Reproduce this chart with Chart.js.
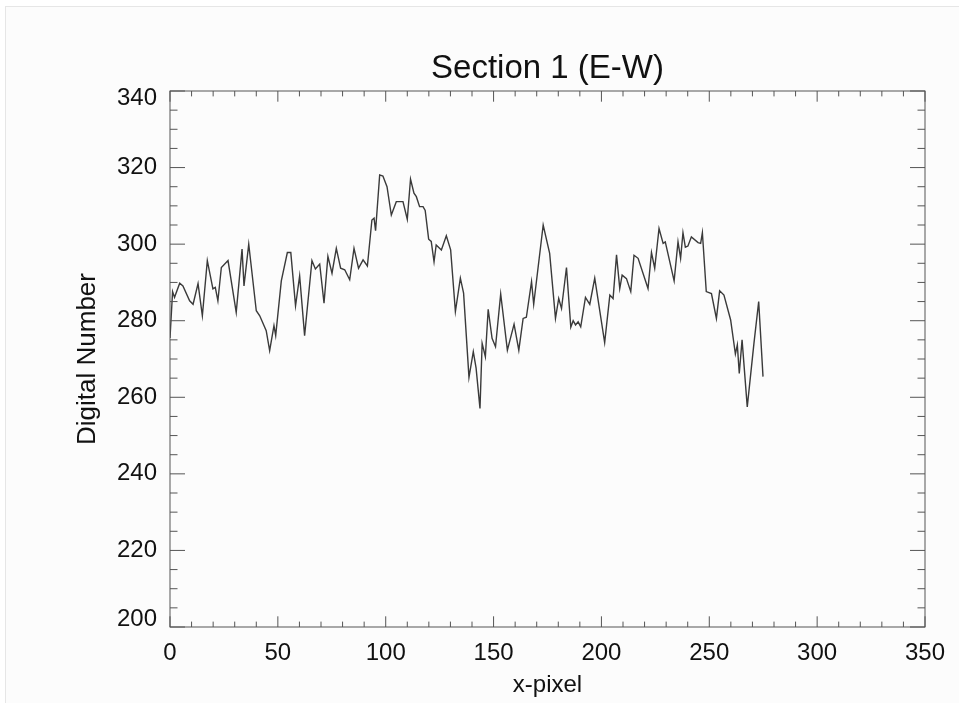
<!DOCTYPE html>
<html>
<head>
<meta charset="utf-8">
<title>Section 1 (E-W)</title>
<script src="https://cdn.jsdelivr.net/npm/chart.js@4.4.1/dist/chart.umd.min.js"></script>
<style>
  html, body { margin: 0; padding: 0; background: #fff; }
  #wrap { position: relative; width: 959px; height: 703px; }
  /* faint frame of the original screenshot */
  #frame { position: absolute; left: 5px; top: 6px; right: 0; bottom: 0;
           border-top: 1px solid #e6e6e6; border-left: 1px solid #e6e6e6; background: #fcfcfc; }
  #grafica { position: absolute; left: 0; top: 0; }
</style>
</head>
<body>
<div id="wrap">
  <div id="frame"></div>
  <canvas id="grafica" width="959" height="703"></canvas>
</div>
<script>
// Perfil de la seccion 1 (x-pixel, Digital Number)
const xPixel = [
  0, 1.2, 2.1, 4.5, 6, 9.1, 10.7, 13, 15, 17.3, 19.9, 21, 22.2, 23.8, 26.9, 30.7, 33.4, 34.3, 36.5, 40,
  41.6, 44.6, 46.2, 48.2, 49, 51.6, 54.4, 56, 58.2, 60.1, 62.4, 65.8, 67.4, 69.4, 71.4, 73.2, 75.1, 77.1, 79.1, 81,
  83.3, 85.3, 87.4, 89.5, 91.5, 93.6, 94.6, 95.3, 97.2, 98.7, 100.6, 102.6, 104.9, 108, 110, 111.5, 113.1, 114.2, 115.7, 117.3,
  118.3, 119.9, 121.1, 122.4, 123.4, 125.8, 128.1, 130.1, 132.3, 134.6, 136.1, 138.6, 140.6, 141.9, 143.7, 144.7, 146.2, 147.5, 149.3, 150.9,
  153.3, 156.4, 159.5, 161.7, 163.7, 165.2, 167.6, 168.6, 173, 176, 178.7, 180.2, 181.5, 183.8, 185.8, 186.9, 188, 189.2, 190.4, 192.6,
  194.6, 196.9, 201.5, 203.9, 205.4, 207, 208.5, 209.6, 211.6, 213.6, 215.1, 217, 221.6, 223.2, 224.7, 226.7, 228.6, 229.6, 233.7, 235.5,
  236.7, 237.8, 238.9, 240.1, 241.7, 244.8, 246, 246.8, 248.6, 251, 253.3, 254.8, 256.8, 259.9, 262.1, 263, 263.9, 265.2, 267.6, 270.7,
  272.9, 274.9
];
const digitalNumber = [
  275.5, 287.6, 286.1, 289.8, 289.1, 285.2, 284.3, 289.7, 281.3, 295.7, 288.3, 288.7, 285.2, 293.9, 295.7, 282.2, 298.7, 289.1, 300, 282.6,
  281.3, 277.4, 272.2, 278.7, 276.1, 290.4, 297.8, 297.8, 283.9, 291.7, 276.1, 295.7, 293.5, 294.8, 284.6, 296.8, 292.4, 298.9, 293.7, 293.3,
  290.7, 298.9, 293.7, 295.9, 294.3, 306.3, 306.8, 303.5, 318.1, 317.8, 315, 307.6, 311.1, 311.1, 306.5, 317, 313.3, 312.4, 309.8, 309.8,
  308.8, 301.3, 300.7, 295.4, 299.8, 298.5, 302.2, 298.5, 282.4, 291.1, 287.2, 265.2, 271.9, 267.6, 257.1, 274.1, 270.6, 283, 275.4, 273.2,
  287, 272.3, 279.1, 272.3, 280.6, 280.9, 290.2, 284.3, 305, 297.6, 280.6, 285.8, 283.2, 293.9, 278.3, 280, 278.9, 279.7, 278.4, 286.1,
  284.3, 291.1, 274.3, 286.7, 285.8, 297.2, 288.4, 291.9, 291, 287.6, 297.1, 296.3, 288.4, 297.8, 293.7, 304.1, 300.2, 300.6, 290.4, 300.6,
  296.3, 303, 299.2, 299.5, 301.9, 300.4, 300.2, 303, 287.6, 287.1, 280.6, 287.8, 286.7, 280.2, 271.3, 273.7, 266.2, 275, 257.5, 274.1,
  285, 265.4
];

// Etiquetas de los ejes
const xTicks = [0, 50, 100, 150, 200, 250, 300, 350];
const yTicks = [200, 220, 240, 260, 280, 300, 320, 340];

const fuente = "'Liberation Sans', Arial, Helvetica, sans-serif";
const colorTexto = '#111';

// Marco con marcas hacia adentro en los cuatro lados (estilo IDL)
const marcoIDL = {
  id: 'marcoIDL',
  afterDraw(chart) {
    const { ctx, chartArea: a, scales: { x, y } } = chart;
    ctx.save();
    ctx.strokeStyle = '#555';
    ctx.lineWidth = 1;
    ctx.strokeRect(a.left, a.top, a.right - a.left, a.bottom - a.top);
    ctx.beginPath();
    for (let v = x.min; v <= x.max; v += 10) {
      const px = x.getPixelForValue(v);
      const len = v % 50 === 0 ? 10.7 : 5.4;
      ctx.moveTo(px, a.bottom); ctx.lineTo(px, a.bottom - len);
      ctx.moveTo(px, a.top); ctx.lineTo(px, a.top + len);
    }
    for (let v = y.min; v <= y.max; v += 5) {
      const py = y.getPixelForValue(v);
      const len = v % 20 === 0 ? 15 : 7.5;
      ctx.moveTo(a.left, py); ctx.lineTo(a.left + len, py);
      ctx.moveTo(a.right, py); ctx.lineTo(a.right - len, py);
    }
    ctx.stroke();
    ctx.restore();
  }
};

const ctxPerfil = document.getElementById('grafica').getContext('2d');

new Chart(ctxPerfil, {
  type: 'line',
  data: {
    datasets: [{
      label: 'Section 1 (E-W)',
      data: xPixel.map((x, i) => ({ x: x, y: digitalNumber[i] })),
      borderColor: '#3a3a3a',
      borderWidth: 1.4,
      pointRadius: 0,
      tension: 0,
      fill: false
    }]
  },
  options: {
    responsive: false,
    animation: false,
    layout: { padding: { left: 0, right: 34, top: 0, bottom: 0 } },
    plugins: {
      legend: { display: false },
      tooltip: { enabled: false },
      title: {
        display: true,
        fullSize: false, // centrado sobre el area del grafico
        text: 'Section 1 (E-W)',
        color: colorTexto,
        font: { family: fuente, size: 33, weight: 'normal', lineHeight: 1.2 },
        padding: { top: 48.7, bottom: 2.7 }
      }
    },
    scales: {
      x: {
        type: 'linear',
        min: 0,
        max: 350,
        afterBuildTicks: s => { s.ticks = xTicks.map(v => ({ value: v })); },
        afterFit: s => { s.height = 76; },
        grid: { display: false, drawTicks: false },
        border: { display: false },
        ticks: {
          color: colorTexto,
          padding: 12,
          maxRotation: 0,
          font: { family: fuente, size: 24 }
        },
        title: {
          display: true,
          text: 'x-pixel',
          color: colorTexto,
          font: { family: fuente, size: 24, lineHeight: 1.2 },
          padding: { top: 0, bottom: 3 }
        }
      },
      y: {
        min: 200,
        max: 340,
        afterBuildTicks: s => { s.ticks = yTicks.map(v => ({ value: v })); },
        afterFit: s => { s.width = 170; },
        grid: { display: false, drawTicks: false },
        border: { display: false },
        ticks: {
          color: colorTexto,
          padding: 13,
          // las etiquetas de los extremos quedan dentro del eje, como en IDL
          callback: v => v === 340 ? ['', String(v)] : v === 200 ? [String(v), ''] : String(v),
          font: c => ({
            family: fuente,
            size: 24,
            lineHeight: (c.tick && (c.tick.value === 340 || c.tick.value === 200)) ? '15px' : 1.2
          })
        },
        title: {
          display: true,
          text: 'Digital Number',
          color: colorTexto,
          font: { family: fuente, size: 26, lineHeight: 1.2 },
          padding: { top: 72.4, bottom: 0 }
        }
      }
    }
  },
  plugins: [marcoIDL]
});
</script>
</body>
</html>
